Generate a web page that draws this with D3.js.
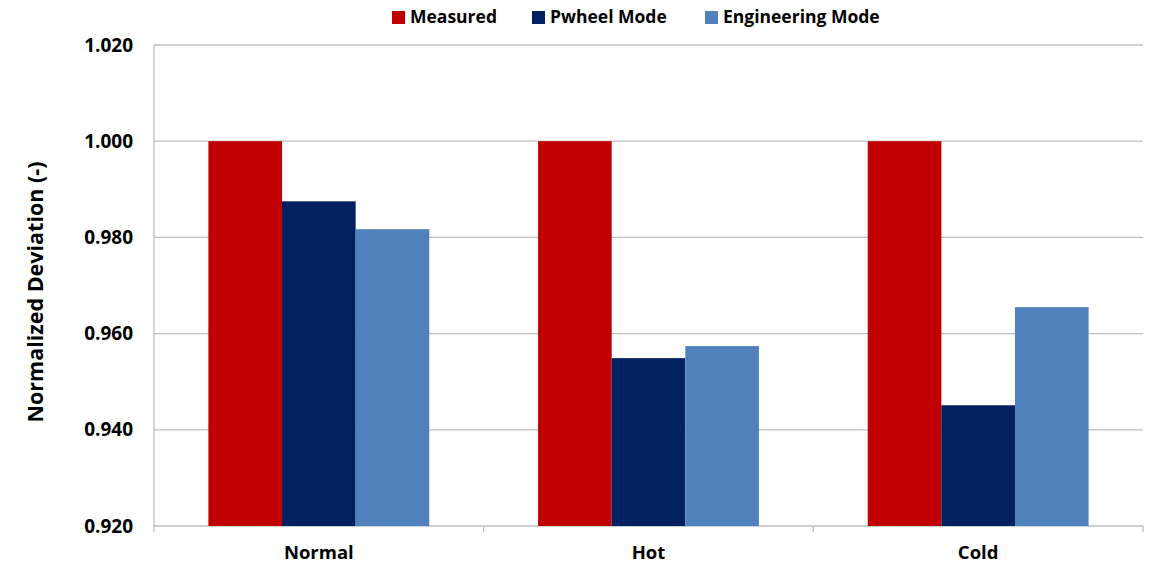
<!DOCTYPE html>
<html><head><meta charset="utf-8">
<script src="https://cdn.jsdelivr.net/npm/d3@7"></script>
<style>body{margin:0;background:#fff;} svg{display:block;font-family:"Open Sans",sans-serif;}</style>
</head><body>
<svg id="c" width="1154" height="566"></svg>
<script>
const categories = ["Normal", "Hot", "Cold"];
const seriesNames = ["Measured", "Pwheel Mode", "Engineering Mode"];
const measured = [1.000, 1.000, 1.000];
const pwheel = [0.9875, 0.9549, 0.9451];
const engineering = [0.9817, 0.9574, 0.9655];
const yTicks = [0.920, 0.940, 0.960, 0.980, 1.000, 1.020];
const colors = ["#c00000", "#002060", "#4f81bd"];

const seriesValues = [measured, pwheel, engineering];
const svg = d3.select("#c");
const L = 154, R = 1143, T = 45, B = 526;
const x = d3.scaleBand().domain(categories).range([L, R]).paddingInner(0.33).paddingOuter(0.165);
const xs = d3.scaleBand().domain(seriesNames).range([0, x.bandwidth()]);
const y = d3.scaleLinear().domain([0.920, 1.020]).range([B, T]);

// gridlines
svg.append("g").selectAll("line").data(yTicks).join("line")
  .attr("x1", L).attr("x2", R).attr("y1", d => y(d)).attr("y2", d => y(d))
  .attr("stroke", "#bfbfbf").attr("stroke-width", 1.3);

// bars
const g = svg.append("g");
categories.forEach((c, i) => {
  seriesNames.forEach((s, j) => {
    const v = seriesValues[j][i];
    g.append("rect").attr("x", x(c) + xs(s)).attr("width", xs.bandwidth())
      .attr("y", y(v)).attr("height", y(0.920) - y(v)).attr("fill", colors[j]);
  });
});

// y axis line
svg.append("line").attr("x1", L).attr("x2", L).attr("y1", T).attr("y2", B)
  .attr("stroke", "#bfbfbf").attr("stroke-width", 1.3);

// x axis ticks
const step = (R - L) / categories.length;
const bounds = d3.range(categories.length + 1).map(k => L + k * step);
svg.append("g").selectAll("line").data(bounds).join("line")
  .attr("x1", d => d).attr("x2", d => d).attr("y1", B).attr("y2", B + 6)
  .attr("stroke", "#bfbfbf").attr("stroke-width", 1.3);

// y tick labels
svg.append("g").selectAll("text").data(yTicks).join("text")
  .attr("x", 133).attr("y", d => y(d)).attr("dy", "0.35em")
  .attr("text-anchor", "end").attr("font-size", 19).attr("font-weight", "bold")
  .attr("fill", "#000").text(d => d3.format(".3f")(d));

// x labels
svg.append("g").selectAll("text").data(categories).join("text")
  .attr("x", d => x(d) + x.bandwidth() / 2).attr("y", 553).attr("dy", "0.35em")
  .attr("text-anchor", "middle").attr("font-size", 18.5).attr("font-weight", "bold")
  .text(d => d);

// y title
svg.append("text").attr("transform", "translate(35,292) rotate(-90)")
  .attr("text-anchor", "middle").attr("dy", "0.35em")
  .attr("font-size", 21.5).attr("font-weight", "bold").text("Normalized Deviation (-)");

// legend
const legX = [392, 532, 705];
const lg = svg.append("g");
seriesNames.forEach((s, j) => {
  lg.append("rect").attr("x", legX[j]).attr("y", 11).attr("width", 13).attr("height", 13).attr("fill", colors[j]);
  lg.append("text").attr("x", legX[j] + 18).attr("y", 17).attr("dy", "0.35em")
    .attr("font-size", 17.5).attr("font-weight", "bold").text(s);
});
</script>
</body></html>
